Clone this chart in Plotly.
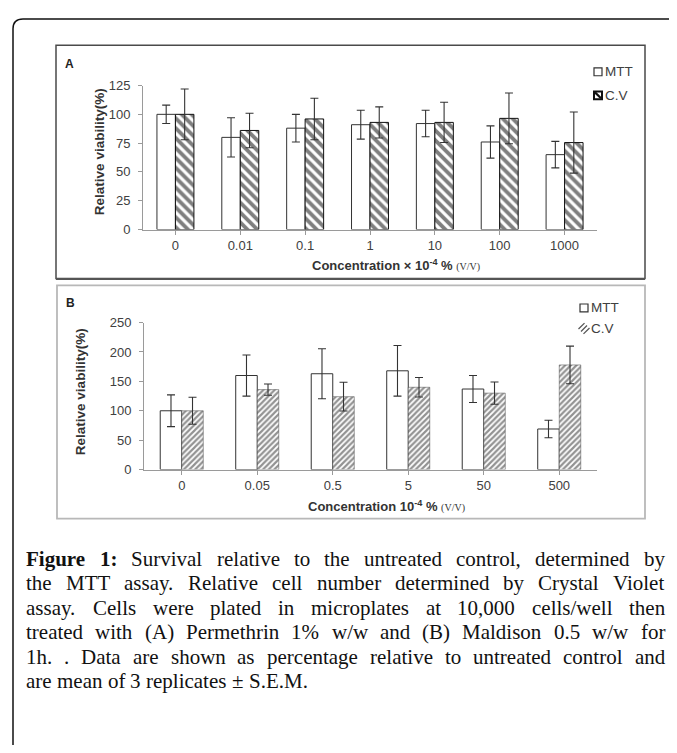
import plotly.graph_objects as go

# page body has an 8px default margin: figure is placed at (8, 8)
OX, OY = 8, 8
W, H = 677 - OX, 753 - 2 * OY

# ---------------- data ----------------
cats_a = ["0", "0.01", "0.1", "1", "10", "100", "1000"]
mtt_a = [100, 80, 88, 91, 92, 76, 65]
mtt_a_err = [8, 17, 12, 12.5, 11.5, 14, 11.5]
cv_a = [100, 86, 96, 93, 93, 96.5, 75.5]
cv_a_err = [22, 15, 18, 13.5, 17.5, 22, 26.5]

cats_b = ["0", "0.05", "0.5", "5", "50", "500"]
mtt_b = [100, 160, 163, 168, 137, 69]
mtt_b_err = [27, 35, 42.5, 43, 23, 15]
cv_b = [100, 136, 124, 140, 130, 178]
cv_b_err = [23, 9.5, 24.5, 16.5, 19, 32]

yticks_a = [0, 25, 50, 75, 100, 125]
yticks_b = [0, 50, 100, 150, 200, 250]

series_names = ["MTT", "C.V"]

caption_lines = [
    "Figure 1: Survival relative to the untreated control, determined by",
    "the MTT assay. Relative cell number determined by Crystal Violet",
    "assay. Cells were plated in microplates at 10,000 cells/well then",
    "treated with (A) Permethrin 1% w/w and (B) Maldison 0.5 w/w for",
    "1h. . Data are shown as percentage relative to untreated control and",
    "are mean of 3 replicates ± S.E.M.",
]
bold_words = {(0, 0), (0, 1)}


def px(x):
    return (x - OX) / W


def py(y):
    return 1 - (y - OY) / H


NARROW = "Liberation Sans Narrow, Arial Narrow, Liberation Sans, Arial, sans-serif"
SANS = "Liberation Sans, Arial, sans-serif"
SERIF = "Liberation Serif, Times New Roman, serif"

fig = go.Figure()

err_style = dict(type="data", color="#333333", thickness=1.1, width=4)

fig.add_trace(go.Bar(
    x=cats_a, y=mtt_a, name=series_names[0], xaxis="x", yaxis="y",
    marker=dict(color="white", line=dict(color="#333333", width=1)),
    error_y=dict(array=mtt_a_err, **err_style),
))
fig.add_trace(go.Bar(
    x=cats_a, y=cv_a, name=series_names[1], xaxis="x", yaxis="y",
    marker=dict(color="white", line=dict(color="#111111", width=1),
                pattern=dict(shape="\\", fgcolor="#000000", bgcolor="white",
                             size=7, solidity=0.55)),
    error_y=dict(array=cv_a_err, **err_style),
))
fig.add_trace(go.Bar(
    x=cats_b, y=mtt_b, name=series_names[0], xaxis="x2", yaxis="y2",
    marker=dict(color="white", line=dict(color="#333333", width=1)),
    error_y=dict(array=mtt_b_err, **err_style),
))
fig.add_trace(go.Bar(
    x=cats_b, y=cv_b, name=series_names[1], xaxis="x2", yaxis="y2",
    marker=dict(color="white", line=dict(color="#444444", width=0.5),
                pattern=dict(shape="/", fgcolor="#262626", bgcolor="white",
                             size=4, solidity=0.55)),
    error_y=dict(array=cv_b_err, **err_style),
))

axis_common = dict(showline=True, linecolor="#9a9a9a", linewidth=1,
                   ticks="outside", tickcolor="#9a9a9a", ticklen=4,
                   tickfont=dict(family=NARROW, size=13, color="#404040"),
                   showgrid=False, zeroline=False, fixedrange=True)

fig.update_layout(
    width=W, height=H,
    margin=dict(l=0, r=0, t=0, b=0),
    paper_bgcolor="white", plot_bgcolor="rgba(0,0,0,0)",
    barmode="group", bargap=0.43, bargroupgap=0,
    showlegend=False,
    xaxis=dict(domain=[px(143), px(597)], anchor="y", type="category", **axis_common),
    yaxis=dict(domain=[py(227), py(80)], anchor="x", range=[0, 125],
               tickvals=yticks_a, ticklabelstandoff=5, **axis_common),
    xaxis2=dict(domain=[px(144), px(597)], anchor="y2", type="category", **axis_common),
    yaxis2=dict(domain=[py(472), py(322)], anchor="x2", range=[0, 250],
                tickvals=yticks_b, ticklabelstandoff=5, **axis_common),
)

# ---------------- frames ----------------
r = 10
x0, y0 = 13, 12
frame_path = (f"M {px(x0)},{py(H + 40)} L {px(x0)},{py(y0 + r)} "
              f"Q {px(x0)},{py(y0)} {px(x0 + r)},{py(y0)} L {px(W + 40)},{py(y0)}")
shapes = [
    dict(type="path", xref="paper", yref="paper", path=frame_path,
         line=dict(color="#111111", width=1.5)),
    dict(type="rect", xref="paper", yref="paper",
         x0=px(56), x1=px(645), y0=py(277), y1=py(39),
         line=dict(color="#4a4a4a", width=1.5)),
    dict(type="line", xref="paper", yref="paper",
         x0=px(56), x1=px(645), y0=py(277.5), y1=py(277.5),
         line=dict(color="#555555", width=2.2)),
    dict(type="rect", xref="paper", yref="paper",
         x0=px(57), x1=px(645), y0=py(522), y1=py(284),
         line=dict(color="#b8b8b8", width=1.8)),
]

# ---------------- manual legends ----------------
def legend_box(cx, cy, s=4):
    return dict(x0=px(cx - s), x1=px(cx + s), y0=py(cy + s), y1=py(cy - s))

# A: MTT (open square), C.V (hatched square)
shapes.append(dict(type="rect", xref="paper", yref="paper", fillcolor="white",
                   line=dict(color="#333333", width=1.2), **legend_box(598, 66)))
shapes.append(dict(type="rect", xref="paper", yref="paper", fillcolor="white",
                   line=dict(color="#111111", width=2), **legend_box(598, 90)))
shapes.append(dict(type="line", xref="paper", yref="paper",
                   x0=px(595), y0=py(87), x1=px(601), y1=py(93),
                   line=dict(color="#111111", width=2.2)))
# B: MTT (open square), C.V (fine hatch)
shapes.append(dict(type="rect", xref="paper", yref="paper", fillcolor="white",
                   line=dict(color="#333333", width=1.2), **legend_box(584, 307)))
for d in (-2.5, 0, 2.5):
    shapes.append(dict(type="line", xref="paper", yref="paper",
                       x0=px(581 + d), y0=py(331 + d), x1=px(587 + d), y1=py(325 + d),
                       line=dict(color="#555555", width=1.3)))

fig.update_layout(shapes=shapes)

annotations = [
    dict(text="<b>A</b>", x=px(63), y=py(58), xanchor="left", yanchor="middle",
         font=dict(family=SANS, size=12, color="#222222")),
    dict(text="<b>B</b>", x=px(64), y=py(302), xanchor="left", yanchor="middle",
         font=dict(family=SANS, size=12, color="#222222")),
    dict(text="<b>Relative viability(%)</b>", x=px(99), y=py(148), textangle=-90,
         xanchor="center", yanchor="middle",
         font=dict(family=SANS, size=13.5, color="#333333")),
    dict(text="<b>Relative viability(%)</b>", x=px(80), y=py(393), textangle=-90,
         xanchor="center", yanchor="middle",
         font=dict(family=SANS, size=13.5, color="#333333")),
    dict(text="<b>Concentration × 10<sup>-4</sup> %</b> "
              "<span style='font-family:Liberation Serif;font-size:10px'>(V/V)</span>",
         x=px(310), y=py(263), xanchor="left", yanchor="middle",
         font=dict(family=NARROW, size=13, color="#333333")),
    dict(text="<b>Concentration 10<sup>-4</sup> %</b> "
              "<span style='font-family:Liberation Serif;font-size:10px'>(V/V)</span>",
         x=px(306), y=py(509), xanchor="left", yanchor="middle",
         font=dict(family=NARROW, size=13, color="#333333")),
    dict(text=series_names[0], x=px(603), y=py(66), xanchor="left", yanchor="middle",
         font=dict(family=NARROW, size=13.5, color="#404040")),
    dict(text=series_names[1], x=px(603), y=py(90), xanchor="left", yanchor="middle",
         font=dict(family=NARROW, size=13.5, color="#404040")),
    dict(text=series_names[0], x=px(589), y=py(307), xanchor="left", yanchor="middle",
         font=dict(family=NARROW, size=13.5, color="#404040")),
    dict(text=series_names[1], x=px(589), y=py(328), xanchor="left", yanchor="middle",
         font=dict(family=NARROW, size=13.5, color="#404040")),
]

# ---------------- justified caption (Times metrics, per 1000 em) ----------------
TIMES = {" ": 250, "(": 333, ")": 333, ",": 250, "-": 333, ".": 250, "/": 278,
         ":": 278, "%": 833, "±": 564,
         "A": 722, "B": 667, "C": 667, "D": 722, "E": 611, "F": 556, "G": 722,
         "H": 722, "I": 333, "J": 389, "K": 722, "L": 611, "M": 889, "N": 722,
         "O": 722, "P": 556, "Q": 722, "R": 667, "S": 556, "T": 611, "U": 722,
         "V": 722, "W": 944, "X": 722, "Y": 722, "Z": 611,
         "a": 444, "b": 500, "c": 444, "d": 500, "e": 444, "f": 333, "g": 500,
         "h": 500, "i": 278, "j": 278, "k": 500, "l": 278, "m": 778, "n": 500,
         "o": 500, "p": 500, "q": 500, "r": 333, "s": 389, "t": 278, "u": 500,
         "v": 500, "w": 722, "x": 500, "y": 500, "z": 444}
TIMES_BOLD = dict(TIMES, F=611, u=556, r=444, **{":": 333})
CAP_SIZE = 21
LEFT, RIGHT = 25, 664


def word_width(w, bold):
    table = TIMES_BOLD if bold else TIMES
    return sum(table.get(ch, 500) for ch in w) * CAP_SIZE / 1000


for i, line in enumerate(caption_lines):
    words = line.split(" ")
    widths = [word_width(w, (i, j) in bold_words) for j, w in enumerate(words)]
    if i < len(caption_lines) - 1 and len(words) > 1:
        gap = (RIGHT - LEFT - sum(widths)) / (len(words) - 1)
    else:
        gap = TIMES[" "] * CAP_SIZE / 1000
    xcur = LEFT
    for j, w in enumerate(words):
        txt = f"<b>{w}</b>" if (i, j) in bold_words else w
        annotations.append(dict(
            text=txt, x=px(xcur), y=py(563 + 25 * i), xanchor="left", yanchor="middle",
            borderpad=0, font=dict(family=SERIF, size=CAP_SIZE, color="#111111")))
        xcur += widths[j] + gap

for a in annotations:
    a.update(xref="paper", yref="paper", showarrow=False)
fig.update_layout(annotations=annotations)

fig.write_html("out.html")
